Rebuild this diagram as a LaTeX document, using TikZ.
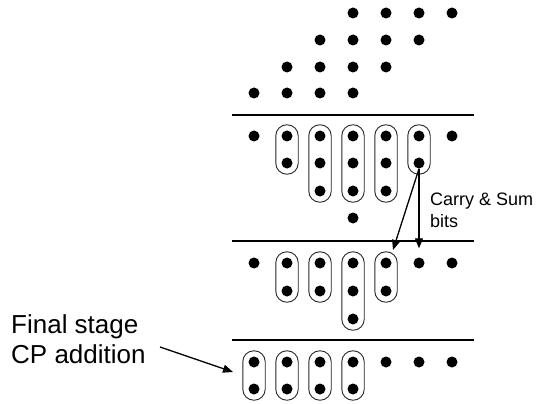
\documentclass[tikz,border=0pt]{standalone}
\usepackage{fontspec}
\setmainfont{Liberation Sans}
\usetikzlibrary{fit,arrows.meta}
\begin{document}
\begin{tikzpicture}[x=1pt,y=-1pt,
  dot/.style={circle,fill=black,inner sep=0pt,minimum size=11pt},
  capsule/.style={draw=black!85,line width=0.9pt,rounded corners=10.9pt,inner sep=5.5pt},
  rule/.style={line width=2.5pt},
  arr/.style={line width=1.3pt,-{Triangle[length=10pt,width=8pt]}},
  lbl/.style={inner sep=0pt,anchor=base west}]
\useasboundingbox (0,0) rectangle (539,404);
% ---- initial partial products
\foreach \c in {3,...,6} \node[dot] (t0c\c) at ({254+33*\c},13) {};
\foreach \c in {2,...,5} \node[dot] (t1c\c) at ({254+33*\c},40) {};
\foreach \c in {1,...,4} \node[dot] (t2c\c) at ({254+33*\c},67) {};
\foreach \c in {0,...,3} \node[dot] (t3c\c) at ({254+33*\c},93) {};
\draw[rule] (232,115) -- (474,115);
% ---- stage 2
\node[dot] (a0c0) at (254,136) {};
\node[dot] (a0c6) at (452,136) {};
\foreach \c in {1,5} {
  \node[dot] (a0c\c) at ({254+33*\c},136) {};
  \node[dot] (a1c\c) at ({254+33*\c},163) {};
  \node[capsule,fit=(a0c\c)(a1c\c)] (capA\c) {};
}
\foreach \c in {2,3,4} {
  \node[dot] (a0c\c) at ({254+33*\c},136) {};
  \node[dot] (a1c\c) at ({254+33*\c},163) {};
  \node[dot] (a2c\c) at ({254+33*\c},191) {};
  \node[capsule,fit=(a0c\c)(a2c\c)] (capA\c) {};
}
\node[dot] (a3c3) at (353,218) {};
\draw[rule] (232,241) -- (474,241);
% ---- stage 3
\node[dot] (b0c0) at (254,263) {};
\node[dot] (b0c5) at (419,263) {};
\node[dot] (b0c6) at (452,263) {};
\foreach \c in {1,2,4} {
  \node[dot] (b0c\c) at ({254+33*\c},263) {};
  \node[dot] (b1c\c) at ({254+33*\c},291) {};
  \node[capsule,fit=(b0c\c)(b1c\c)] (capB\c) {};
}
\node[dot] (b0c3) at (353,263) {};
\node[dot] (b1c3) at (353,291) {};
\node[dot] (b2c3) at (353,319) {};
\node[capsule,fit=(b0c3)(b2c3)] (capB3) {};
\draw[rule] (232,340) -- (474,340);
% ---- final stage
\foreach \c in {0,...,3} {
  \node[dot] (f0c\c) at ({254+33*\c},362) {};
  \node[dot] (f1c\c) at ({254+33*\c},389) {};
  \node[capsule,fit=(f0c\c)(f1c\c)] (capF\c) {};
}
\foreach \c in {4,5,6} \node[dot] (f0c\c) at ({254+33*\c},362) {};
% ---- carry & sum arrows
\coordinate (tipC) at (393,250);
\draw[arr] (a1c5.south) -- (tipC);
\draw[arr,shorten >=9pt] (a1c5.south) -- (b0c5.north);
\node[lbl] (cs1) at (430,205) {\fontsize{18}{21}\selectfont Carry \& Sum};
\node[lbl] (cs2) at (430,227) {\fontsize{18}{21}\selectfont bits};
% ---- final stage label
\node[lbl] (fs1) at (11,333) {\fontsize{26}{30}\selectfont Final stage};
\node[lbl] (fs2) at (11,363) {\fontsize{26}{30}\selectfont CP addition};
\coordinate (fsStart) at (160,347);
\coordinate (fsTip) at (233,372);
\draw[arr] (fsStart) -- (fsTip);
\end{tikzpicture}
\end{document}
